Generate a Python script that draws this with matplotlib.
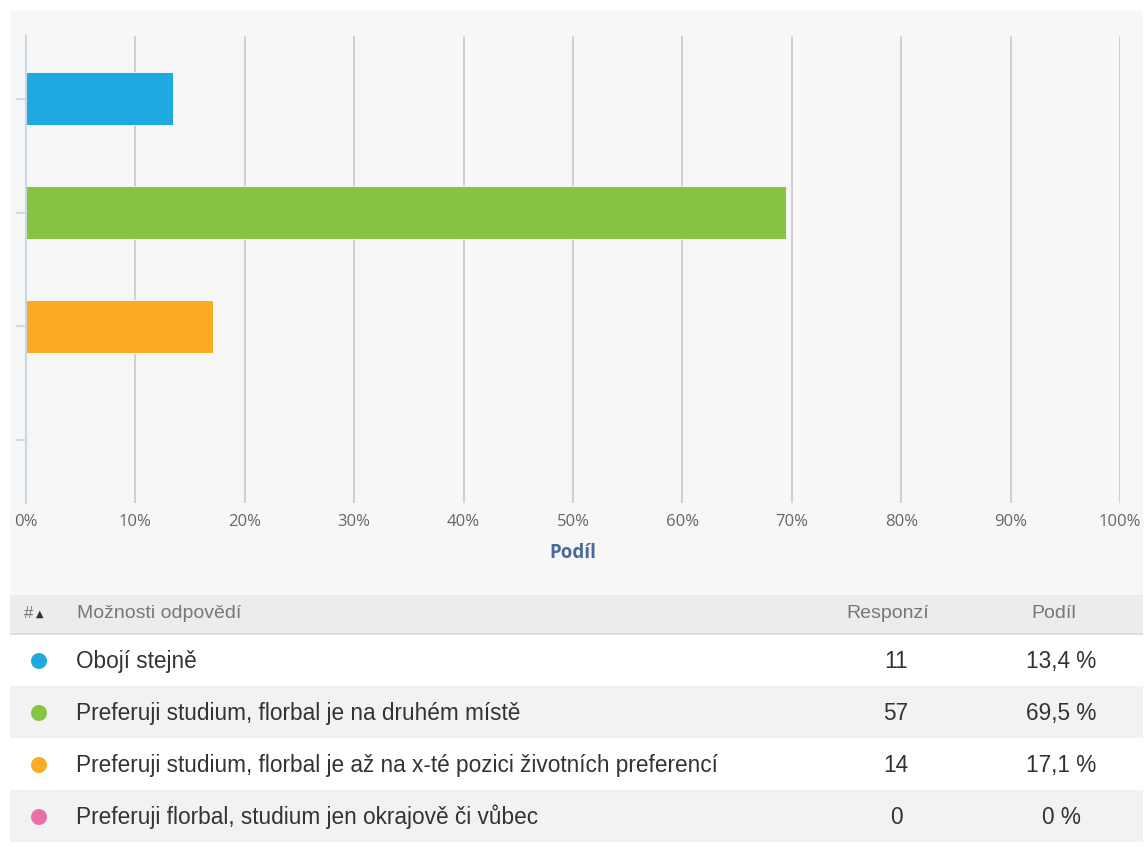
import matplotlib
matplotlib.use("Agg")
import matplotlib.pyplot as plt
from matplotlib.patches import Rectangle, Ellipse
import numpy as np

categories = ["Obojí stejně",
              "Preferuji studium, florbal je na druhém místě",
              "Preferuji studium, florbal je až na x-té pozici životních preferencí",
              "Preferuji florbal, studium jen okrajově či vůbec"]
responses = [11, 57, 14, 0]
shares = [13.4, 69.5, 17.1, 0.0]
share_labels = ["13,4 %", "69,5 %", "17,1 %", "0 %"]
colors = ["#1fa9e1", "#87c442", "#fbab24", "#e96fa9"]
xticks = [0, 10, 20, 30, 40, 50, 60, 70, 80, 90, 100]
xtick_labels = [f"{t}%" for t in xticks]
header = ["#", "Možnosti odpovědí", "Responzí", "Podíl"]

W, H = 1146, 847
fig = plt.figure(figsize=(W / 100, H / 100), dpi=100)
fig.patch.set_facecolor("white")

def fx(px):
    return px / W

def fy(py):
    return 1 - py / H

# chart panel background
fig.patches.append(Rectangle((fx(10), fy(595)), fx(1143) - fx(10), fy(11) - fy(595),
                             transform=fig.transFigure, facecolor="#f7f7f7", edgecolor="none", zorder=0))

# axes: x 26..1120, y 36..503
ax = fig.add_axes([fx(26), fy(503), fx(1120) - fx(26), fy(36) - fy(503)])
ax.set_zorder(5)
ax.set_facecolor("none")
ypos = np.arange(len(categories))
ax.barh(ypos, shares, height=0.47, color=colors, edgecolor="white", linewidth=0.6, zorder=3)
ax.set_xlim(0, 100)
ax.set_ylim(3.55, -0.55)
ax.set_xticks(xticks)
ax.set_xticklabels(xtick_labels, fontsize=12, color="#666666", family="Open Sans")
ax.tick_params(axis="x", length=0, pad=8)
ax.set_yticks(ypos)
ax.set_yticklabels([])
ax.tick_params(axis="y", length=7, color="#c8d6e6", width=1.2)
ax.grid(axis="x", color="#cccccc", linewidth=1.3, zorder=1)
ax.set_axisbelow(True)
for s in ["top", "right", "bottom"]:
    ax.spines[s].set_visible(False)
ax.spines["left"].set_color("#c8d6e6")
ax.spines["left"].set_linewidth(1.5)
ax.spines["left"].set_zorder(4)
ax.set_xlabel("Podíl", fontsize=13.5, fontweight="bold", color="#4a6a9a", family="Open Sans", labelpad=9)

# table header
fig.patches.append(Rectangle((fx(10), fy(634)), fx(1143) - fx(10), fy(595) - fy(634),
                             transform=fig.transFigure, facecolor="#ececec", edgecolor="none", zorder=0))
fig.patches.append(Rectangle((fx(10), fy(635)), fx(1143) - fx(10), fy(633) - fy(635),
                             transform=fig.transFigure, facecolor="#dddddd", edgecolor="none", zorder=1))
hy = fy(614)
hcol = "#777777"
fig.text(fx(24), hy, "#", fontsize=12, color=hcol, va="center", family="Liberation Sans")
fig.text(fx(36), hy, "▲", fontsize=7, color="#333333", va="center", family="DejaVu Sans")
fig.text(fx(77), hy, header[1], fontsize=14, color=hcol, va="center", family="Liberation Sans")
fig.text(fx(888), hy, header[2], fontsize=14, color=hcol, va="center", ha="center", family="Liberation Sans")
fig.text(fx(1054), hy, header[3], fontsize=14, color=hcol, va="center", ha="center", family="Liberation Sans")

row_top = 634
row_h = 52
for i, (cat, r, sl, c) in enumerate(zip(categories, responses, share_labels, colors)):
    top = row_top + i * row_h
    bg = "white" if i % 2 == 0 else "#f2f2f2"
    fig.patches.append(Rectangle((fx(10), fy(top + row_h)), fx(1143) - fx(10), fy(top) - fy(top + row_h),
                                 transform=fig.transFigure, facecolor=bg, edgecolor="none", zorder=0))
    cy = top + row_h / 2 + 1
    fig.patches.append(Ellipse((fx(39), fy(cy)), 16 / W, 16 / H, transform=fig.transFigure,
                               facecolor=c, edgecolor="none", zorder=2))
    fig.text(fx(76), fy(cy), cat, fontsize=16.3, color="#333333", va="center", family="Liberation Sans")
    fig.text(fx(896), fy(cy), str(r), fontsize=16.3, color="#333333", va="center", ha="center", family="Liberation Sans")
    fig.text(fx(1061), fy(cy), sl, fontsize=16.3, color="#333333", va="center", ha="center", family="Liberation Sans")

fig.savefig("out.png", dpi=100)
